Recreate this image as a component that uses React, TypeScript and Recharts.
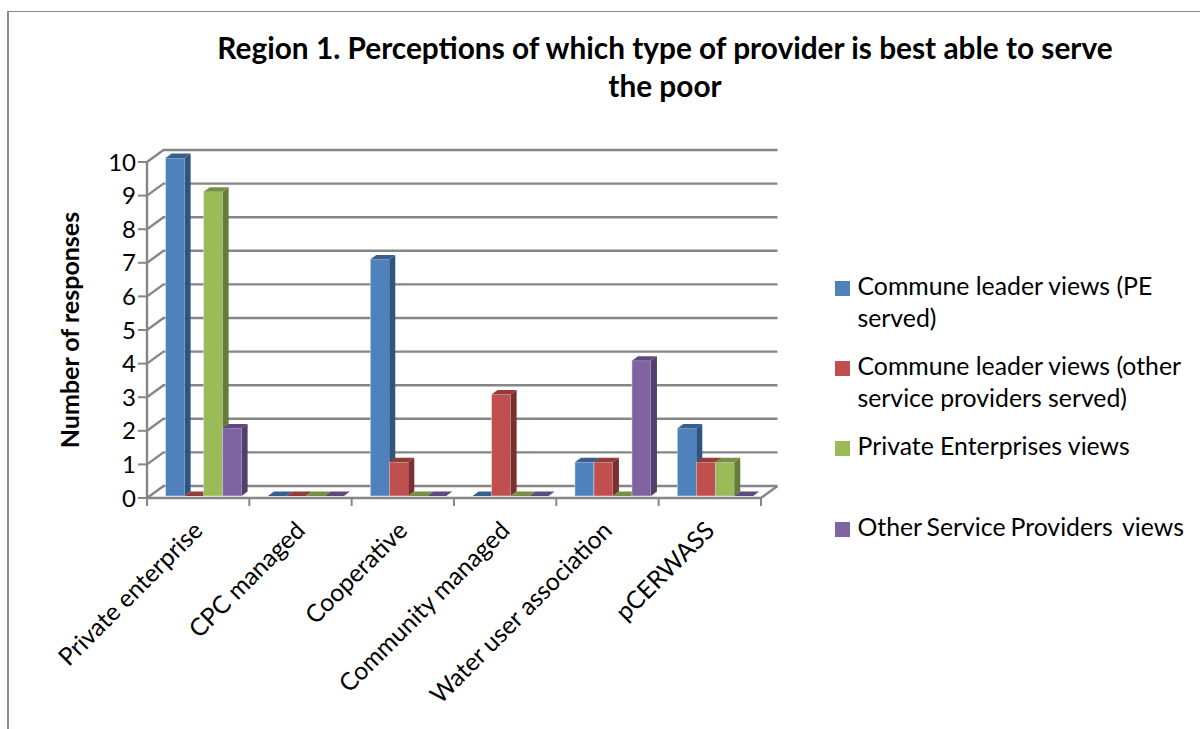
import React from "react";
import { BarChart, Bar, XAxis, YAxis, CartesianGrid, Legend } from "recharts";

const categories = ["Private enterprise", "CPC managed", "Cooperative", "Community managed", "Water user association", "pCERWASS"];
const communeLeaderPe = [10, 0, 7, 0, 1, 2];
const communeLeaderOther = [0, 0, 1, 3, 1, 1];
const privateEnterprises = [9, 0, 0, 0, 0, 1];
const otherProviders = [2, 0, 0, 0, 4, 0];
const yTicks = [0, 1, 2, 3, 4, 5, 6, 7, 8, 9, 10];

const titleLines = ["Region 1. Perceptions of which type of provider is best able to serve", "the poor"];

const legendLabels = [
  ["Commune leader views (PE", "served)"],
  ["Commune leader views (other", "service providers served)"],
  ["Private Enterprises views"],
  ["Other Service Providers  views"],
];

const series = [
  { key: "pe", name: "Commune leader views (PE served)", values: communeLeaderPe, front: "#4f81bd", side: "#2f5480", top: "#38608f" },
  { key: "other", name: "Commune leader views (other service providers served)", values: communeLeaderOther, front: "#c0504d", side: "#7d2f2d", top: "#953b39" },
  { key: "private", name: "Private Enterprises views", values: privateEnterprises, front: "#9bbb59", side: "#667c39", top: "#769143" },
  { key: "others", name: "Other Service Providers  views", values: otherProviders, front: "#8064a2", side: "#533f6e", top: "#5f4a7f" },
];

const rows = categories.map((name, i) => {
  const row: Record<string, string | number> = { name };
  series.forEach((s) => {
    row[s.key] = s.values[i];
  });
  return row;
});

const FONT = "Lato, Carlito, sans-serif";
const GRID = "#868686";
const DEPTH_X = 16.5;
const DEPTH_Y = 12;
const PLOT_BOTTOM = 498;
const PLOT_RIGHT = 761;
const BAND = 102.33;

// Wall gridline: runs back from the axis, then across the rear plane.
function gridLine(props: any) {
  const { x1, y1, x2, key } = props;
  const isFloor = Math.abs(y1 - PLOT_BOTTOM) < 1;
  return (
    <g key={key}>
      <polyline
        points={`${x1},${y1} ${x1 + DEPTH_X},${y1 - DEPTH_Y} ${x2 + DEPTH_X},${y1 - DEPTH_Y}`}
        fill="none"
        stroke={GRID}
        strokeWidth={2.4}
      />
      {isFloor && (
        <line x1={PLOT_RIGHT} y1={PLOT_BOTTOM} x2={PLOT_RIGHT + DEPTH_X} y2={PLOT_BOTTOM - DEPTH_Y} stroke={GRID} strokeWidth={2.4} />
      )}
    </g>
  );
}

// Column drawn as an extruded box, a flat plate when the value is zero.
function boxShape(front: string, side: string, top: string) {
  return (props: any) => {
    const { x, y, width, height, value } = props;
    const v = Array.isArray(value) ? value[1] - value[0] : value;
    const dx = 6;
    const dy = 4.5;
    const left = x + 4.9;
    const right = left + width;
    const bottom = y + height - 2;
    const upper = y - 2 - 0.2 * v;
    return (
      <g>
        {v > 0 && <rect x={left} y={upper} width={width} height={bottom - upper} fill={front} stroke="#dfe6f2" strokeWidth={0.5} />}
        {v > 0 && (
          <polygon points={`${right},${upper} ${right + dx},${upper - dy} ${right + dx},${bottom - dy} ${right},${bottom}`} fill={side} />
        )}
        <polygon points={`${left},${upper} ${right},${upper} ${right + dx},${upper - dy} ${left + dx},${upper - dy}`} fill={top} />
      </g>
    );
  };
}

// Slanted category label, with axis tick marks on the band boundaries.
function CategoryTick(props: any) {
  const { x, y, payload, index } = props;
  const ax = x + 6;
  const ay = y + 24;
  const edges = index === categories.length - 1 ? [x - BAND / 2, x + BAND / 2] : [x - BAND / 2];
  return (
    <g>
      {edges.map((edge) => (
        <line key={edge} x1={edge} x2={edge} y1={PLOT_BOTTOM} y2={PLOT_BOTTOM + 8} stroke={GRID} strokeWidth={2} />
      ))}
      <text x={ax} y={ay} transform={`rotate(-45 ${ax} ${ay})`} textAnchor="end" fontFamily={FONT} fontSize={24.6} fill="#000">
        {payload.value}
      </text>
    </g>
  );
}

function LegendBlock() {
  const tops = [273, 353, 433, 514];
  return (
    <div style={{ position: "relative", width: 365, height: 290, fontFamily: FONT, fontSize: 24.8, color: "#000" }}>
      {legendLabels.map((lines, i) => (
        <div key={i}>
          <div style={{ position: "absolute", left: 0, top: tops[i] - 273 + 8, width: 15, height: 15, background: series[i].front }} />
          {lines.map((line, j) => (
            <div key={j} style={{ position: "absolute", left: 22.5, top: tops[i] - 273 + j * 32 - 3.5, whiteSpace: "pre", lineHeight: "32px", wordSpacing: i === 3 ? -1.4 : 0 }}>
              {line}
            </div>
          ))}
        </div>
      ))}
    </div>
  );
}

export default function App() {
  return (
    <div style={{ position: "fixed", left: 0, top: 0, width: 1200, height: 729, background: "#fff", overflow: "hidden" }}>
      <div style={{ position: "absolute", left: 7, top: 11, width: 1200, height: 730, borderLeft: "2px solid #8a8a8a", borderTop: "1.5px solid #8a8a8a" }} />
      <div style={{ position: "absolute", left: 0, top: 0 }}>
        <BarChart
          width={1200}
          height={729}
          data={rows}
          margin={{ top: 162, right: 439, bottom: 31, left: 20 }}
          barCategoryGap="13.4%"
          barGap={0}
        >
          <text x={665} y={59} textAnchor="middle" fontFamily={FONT} fontWeight={700} fontSize={29.8}>
            {titleLines[0]}
          </text>
          <text x={665} y={97} textAnchor="middle" fontFamily={FONT} fontWeight={700} fontSize={29.8}>
            {titleLines[1]}
          </text>
          <CartesianGrid vertical={false} horizontal={gridLine} />
          <XAxis
            dataKey="name"
            interval={0}
            height={200}
            tick={<CategoryTick />}
            tickSize={8}
            axisLine={{ stroke: GRID, strokeWidth: 2.4 }}
            tickLine={false}
          />
          <YAxis
            width={127}
            domain={[0, 10]}
            ticks={yTicks}
            interval={0}
            tickSize={9}
            tick={{ fontFamily: FONT, fontSize: 24, fill: "#000" }}
            axisLine={{ stroke: GRID, strokeWidth: 2.4 }}
            tickLine={{ stroke: GRID, strokeWidth: 2 }}
            label={{
              value: "Number of responses",
              angle: -90,
              position: "center",
              dx: -13,
              dy: 0,
              style: { fontFamily: FONT, fontWeight: 700, fontSize: 25, fill: "#000", textAnchor: "middle" },
            }}
          />
          <Legend
            layout="vertical"
            align="center"
            verticalAlign="middle"
            content={<LegendBlock />}
            wrapperStyle={{ position: "absolute", left: 835, top: 273, width: 365, height: 290, margin: 0 }}
          />
          {series.map((s) => (
            <Bar key={s.key} dataKey={s.key} name={s.name} fill={s.front} isAnimationActive={false} shape={boxShape(s.front, s.side, s.top)} />
          ))}
        </BarChart>
      </div>
    </div>
  );
}
